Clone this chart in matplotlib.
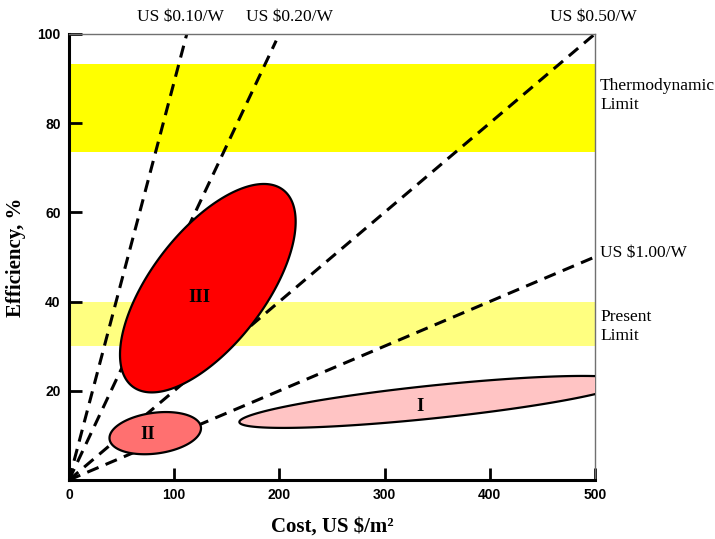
import numpy as np
import matplotlib
matplotlib.use('Agg')
import matplotlib.pyplot as plt
from matplotlib.patches import Polygon

# cost per watt lines: end points of each line drawn from the origin
line_labels = ['US $0.10/W', 'US $0.20/W', 'US $0.50/W', 'US $1.00/W']
line_end_x = [112, 197, 500, 500]
line_end_y = [100, 98.5, 100, 50]

# efficiency bands (low, high)
thermo_band = [73.5, 93.3]
present_band = [30, 40]

# technology regions: centre, semi-axis vector, vertical half-height
region_names = ['I', 'II', 'III']
region_cx = [346, 82, 132]
region_cy = [17.5, 10.5, 43]
region_ax = [184, 43.5, 83.5]
region_ay = [4.5, 1.1, 14.9]
region_b = [3.7, 4.6, 18]
region_colors = ['#ffc4c4', '#ff7070', '#ff0000']
region_label_x = [334, 75, 124]
region_label_y = [16.4, 10.3, 41]

serif = 'Liberation Serif'

fig = plt.figure(figsize=(7.15, 5.39), dpi=100)
ax = fig.add_axes([0.0965, 0.1095, 0.7355, 0.8275])

ax.axhspan(thermo_band[0], thermo_band[1], color='#ffff00', lw=0, zorder=1)
ax.axhspan(present_band[0], present_band[1], color='#ffff80', lw=0, zorder=1)

for ex, ey in zip(line_end_x, line_end_y):
    ax.plot([0, ex], [0, ey], color='black', lw=2.2, ls=(0, (4, 2.5)), zorder=2)

t = np.linspace(0, 2 * np.pi, 300)
for i in range(len(region_names)):
    xs = region_cx[i] + region_ax[i] * np.cos(t)
    ys = region_cy[i] + region_ay[i] * np.cos(t) + region_b[i] * np.sin(t)
    poly = Polygon(np.column_stack([xs, ys]), closed=True, facecolor=region_colors[i],
                   edgecolor='black', lw=1.6, zorder=3)
    ax.add_patch(poly)
    ax.text(region_label_x[i], region_label_y[i], region_names[i], family=serif,
            fontweight='bold', fontsize=13.5, ha='center', va='center', zorder=4)

ax.set_xlim(0, 500)
ax.set_ylim(0, 100)
ax.set_xticks([0, 100, 200, 300, 400, 500])
ax.set_yticks([20, 40, 60, 80, 100])
ax.tick_params(direction='in', length=9, width=2, labelsize=10, pad=6)
for lab in ax.get_xticklabels() + ax.get_yticklabels():
    lab.set_family('Liberation Sans')
    lab.set_fontweight('bold')

for s in ['left', 'bottom']:
    ax.spines[s].set_linewidth(2.2)
    ax.spines[s].set_color('black')
for s in ['top', 'right']:
    ax.spines[s].set_linewidth(1)
    ax.spines[s].set_color('#707070')

ax.set_xlabel('Cost, US $/m²', family=serif, fontweight='bold', fontsize=15, labelpad=10)
ax.set_ylabel('Efficiency, %', family=serif, fontweight='bold', fontsize=15, labelpad=8)

# labels for the cost lines
ax.text(105.5, 103.8, line_labels[0], family=serif, fontsize=12.5, ha='center', va='center', clip_on=False)
ax.text(210, 103.8, line_labels[1], family=serif, fontsize=12.5, ha='center', va='center', clip_on=False)
ax.text(499, 103.8, line_labels[2], family=serif, fontsize=12.5, ha='center', va='center', clip_on=False)
ax.text(505, 51, line_labels[3], family=serif, fontsize=12.5, ha='left', va='center', clip_on=False)

ax.text(505, 86.3, 'Thermodynamic\nLimit', family=serif, fontsize=12.5, ha='left', va='center',
        linespacing=1.25, clip_on=False)
ax.text(505, 34.5, 'Present\nLimit', family=serif, fontsize=12.5, ha='left', va='center',
        linespacing=1.25, clip_on=False)

fig.savefig('out.png', dpi=100)
plt.close(fig)
